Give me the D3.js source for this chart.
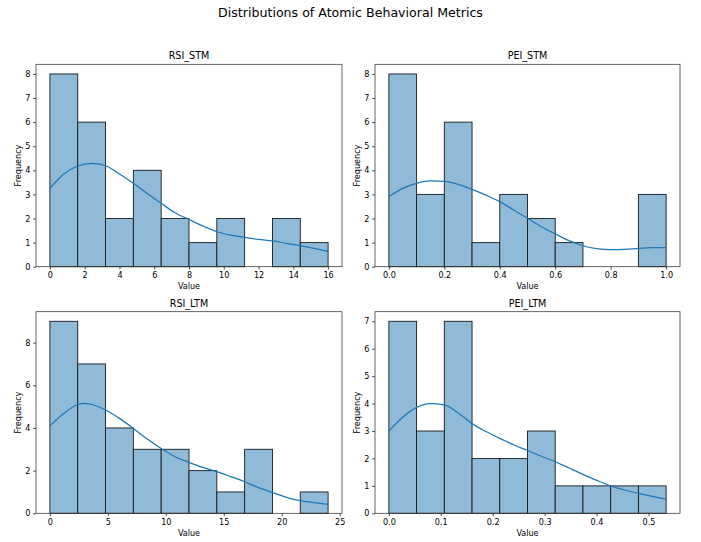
<!DOCTYPE html>
<html>
<head>
<meta charset="utf-8">
<script src="https://cdn.jsdelivr.net/npm/d3@7"></script>
<style>
    body { margin: 0; background: #fff; }
    svg { display: block; font-family: "DejaVu Sans", sans-serif; }
</style>
</head>
<body>
<div class="container"></div>
<script>
var WIDTH = 701;
var HEIGHT = 542;
var SUPTITLE = "Distributions of Atomic Behavioral Metrics";

// histogram counts per bin, bin range, kde curve
var RSI_STM_COUNTS = [8, 6, 2, 4, 2, 1, 2, 0, 2, 1];
var RSI_STM_RANGE = [0, 16];
var RSI_STM_KDE_X = [0, 0.8, 1.6, 2.4, 3.2, 4.0, 4.8, 5.6, 6.4, 7.2, 8.0, 8.8, 9.6, 10.4, 11.2, 12.0, 12.8, 13.6, 14.4, 15.2, 16.0];
var RSI_STM_KDE_Y = [3.25, 3.85, 4.18, 4.29, 4.19, 3.85, 3.46, 3.04, 2.63, 2.24, 1.96, 1.69, 1.45, 1.31, 1.22, 1.13, 1.07, 0.97, 0.87, 0.76, 0.64];
var RSI_STM_XTICKS = [0, 2, 4, 6, 8, 10, 12, 14, 16];
var RSI_STM_YTICKS = [0, 1, 2, 3, 4, 5, 6, 7, 8];

var PEI_STM_COUNTS = [8, 3, 6, 1, 3, 2, 1, 0, 0, 3];
var PEI_STM_RANGE = [0, 1];
var PEI_STM_KDE_X = [0, 0.05, 0.1, 0.15, 0.2, 0.25, 0.3, 0.35, 0.4, 0.45, 0.5, 0.55, 0.6, 0.65, 0.7, 0.75, 0.8, 0.85, 0.9, 0.95, 1.0];
var PEI_STM_KDE_Y = [2.91, 3.25, 3.46, 3.56, 3.54, 3.42, 3.21, 2.97, 2.70, 2.35, 2.01, 1.66, 1.36, 1.08, 0.87, 0.75, 0.71, 0.72, 0.76, 0.79, 0.79];
var PEI_STM_XTICKS = [0, 0.2, 0.4, 0.6, 0.8, 1.0];
var PEI_STM_YTICKS = [0, 1, 2, 3, 4, 5, 6, 7, 8];

var RSI_LTM_COUNTS = [9, 7, 4, 3, 3, 2, 1, 3, 0, 1];
var RSI_LTM_RANGE = [0, 24];
var RSI_LTM_KDE_X = [0, 1.2, 2.4, 3.0, 3.6, 4.8, 6.0, 7.2, 8.4, 9.6, 10.8, 12.0, 13.2, 14.4, 15.6, 16.8, 18.0, 19.2, 20.4, 21.6, 22.8, 24.0];
var RSI_LTM_KDE_Y = [4.10, 4.68, 5.10, 5.15, 5.10, 4.84, 4.45, 3.98, 3.48, 3.04, 2.65, 2.39, 2.15, 1.95, 1.72, 1.48, 1.20, 0.97, 0.75, 0.59, 0.50, 0.42];
var RSI_LTM_XTICKS = [0, 5, 10, 15, 20, 25];
var RSI_LTM_YTICKS = [0, 2, 4, 6, 8];

var PEI_LTM_COUNTS = [7, 3, 7, 2, 2, 3, 1, 1, 1, 1];
var PEI_LTM_RANGE = [0, 0.534];
var PEI_LTM_KDE_X = [0, 0.0267, 0.0534, 0.0801, 0.1068, 0.1335, 0.1602, 0.1869, 0.2136, 0.2403, 0.267, 0.2937, 0.3204, 0.3471, 0.3738, 0.4005, 0.4272, 0.4539, 0.4806, 0.5073, 0.534];
var PEI_LTM_KDE_Y = [3.0, 3.5, 3.86, 4.0, 3.95, 3.66, 3.27, 2.98, 2.73, 2.50, 2.29, 2.08, 1.88, 1.65, 1.42, 1.2, 1.0, 0.85, 0.73, 0.62, 0.52];
var PEI_LTM_XTICKS = [0, 0.1, 0.2, 0.3, 0.4, 0.5];
var PEI_LTM_YTICKS = [0, 1, 2, 3, 4, 5, 6, 7];

var panels = [
    { title: "RSI_STM", counts: RSI_STM_COUNTS, range: RSI_STM_RANGE, kdeX: RSI_STM_KDE_X, kdeY: RSI_STM_KDE_Y,
      xticks: RSI_STM_XTICKS, yticks: RSI_STM_YTICKS, fmt: d3.format("d"), box: [36, 64.3, 342, 266.7] },
    { title: "PEI_STM", counts: PEI_STM_COUNTS, range: PEI_STM_RANGE, kdeX: PEI_STM_KDE_X, kdeY: PEI_STM_KDE_Y,
      xticks: PEI_STM_XTICKS, yticks: PEI_STM_YTICKS, fmt: d3.format(".1f"), box: [375, 64.3, 680, 266.7] },
    { title: "RSI_LTM", counts: RSI_LTM_COUNTS, range: RSI_LTM_RANGE, kdeX: RSI_LTM_KDE_X, kdeY: RSI_LTM_KDE_Y,
      xticks: RSI_LTM_XTICKS, yticks: RSI_LTM_YTICKS, fmt: d3.format("d"), box: [36, 311.7, 342, 513.3] },
    { title: "PEI_LTM", counts: PEI_LTM_COUNTS, range: PEI_LTM_RANGE, kdeX: PEI_LTM_KDE_X, kdeY: PEI_LTM_KDE_Y,
      xticks: PEI_LTM_XTICKS, yticks: PEI_LTM_YTICKS, fmt: d3.format(".1f"), box: [375, 311.7, 680, 513.3] }
];

var TICK = 2.84;
var svg = d3.select(".container").append("svg")
    .attr("width", WIDTH)
    .attr("height", HEIGHT);

svg.append("text")
    .attr("x", WIDTH / 2)
    .attr("y", 16.8)
    .attr("text-anchor", "middle")
    .attr("font-size", "12.6px")
    .attr("fill", "#000")
    .text(SUPTITLE);

panels.forEach(function (p) {
    var x0 = p.box[0], y0 = p.box[1], x1 = p.box[2], y1 = p.box[3];
    var span = p.range[1] - p.range[0];
    var x = d3.scaleLinear()
        .domain([p.range[0] - span * 0.05, p.range[1] + span * 0.05])
        .range([x0, x1]);
    var y = d3.scaleLinear()
        .domain([0, d3.max(p.counts) * 1.05])
        .range([y1, y0]);

    var n = p.counts.length;
    var bins = p.counts.map(function (c, i) {
        return { lo: p.range[0] + span * i / n, hi: p.range[0] + span * (i + 1) / n, c: c };
    });

    var g = svg.append("g");

    g.selectAll("rect.bar")
        .data(bins.filter(function (b) { return b.c > 0; }))
        .enter()
        .append("rect")
        .attr("class", "bar")
        .attr("x", function (b) { return x(b.lo); })
        .attr("y", function (b) { return y(b.c); })
        .attr("width", function (b) { return x(b.hi) - x(b.lo); })
        .attr("height", function (b) { return y(0) - y(b.c); })
        .attr("fill", "#8fbbd9")
        .attr("stroke", "#1a1a1a")
        .attr("stroke-width", 0.9);

    var line = d3.line()
        .x(function (d) { return x(d[0]); })
        .y(function (d) { return y(d[1]); })
        .curve(d3.curveMonotoneX);

    g.append("path")
        .datum(d3.zip(p.kdeX, p.kdeY))
        .attr("d", line)
        .attr("fill", "none")
        .attr("stroke", "#1f77b4")
        .attr("stroke-width", 1.25);

    var xAxis = g.append("g")
        .attr("transform", "translate(0," + y1 + ")")
        .call(d3.axisBottom(x).tickValues(p.xticks).tickFormat(p.fmt).tickSize(TICK).tickPadding(TICK));
    var yAxis = g.append("g")
        .attr("transform", "translate(" + x0 + ",0)")
        .call(d3.axisLeft(y).tickValues(p.yticks).tickFormat(d3.format("d")).tickSize(TICK).tickPadding(TICK));

    [xAxis, yAxis].forEach(function (a) {
        a.select(".domain").remove();
        a.selectAll("text").attr("font-size", "8.1px").attr("font-family", "DejaVu Sans").attr("fill", "#000");
        a.selectAll("line").attr("stroke", "#000").attr("stroke-width", 0.7);
    });

    g.append("rect")
        .attr("x", x0)
        .attr("y", y0)
        .attr("width", x1 - x0)
        .attr("height", y1 - y0)
        .attr("fill", "none")
        .attr("stroke", "#333")
        .attr("stroke-width", 0.75);

    g.append("text")
        .attr("x", (x0 + x1) / 2)
        .attr("y", y0 - 4.9)
        .attr("text-anchor", "middle")
        .attr("font-size", "9.6px")
        .text(p.title);

    g.append("text")
        .attr("x", (x0 + x1) / 2)
        .attr("y", y1 + 22.5)
        .attr("text-anchor", "middle")
        .attr("font-size", "8.1px")
        .text("Value");

    g.append("text")
        .attr("transform", "translate(" + (x0 - 15) + "," + ((y0 + y1) / 2) + ") rotate(-90)")
        .attr("text-anchor", "middle")
        .attr("font-size", "8.1px")
        .text("Frequency");
});
</script>
</body>
</html>
